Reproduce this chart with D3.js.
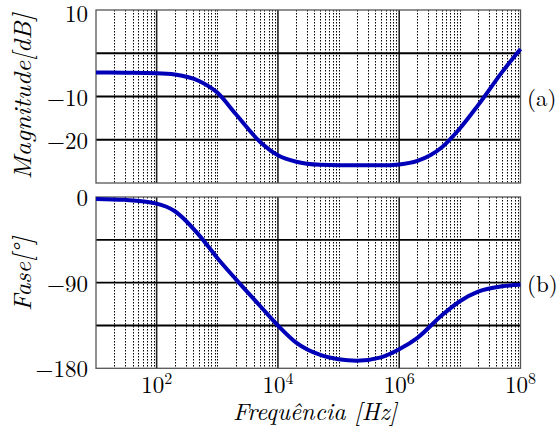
<!DOCTYPE html>
<html>
<head>
<meta charset="utf-8">
<script src="https://cdn.jsdelivr.net/npm/d3@7"></script>
<style>
  body { margin: 0; background: #fff; }
</style>
</head>
<body>
<svg id="chart" width="558" height="439"></svg>
<script>
// frequencias (Hz)
const freq = [10, 30, 100, 200, 500, 1e3, 2e3, 5e3, 1e4, 2e4, 5e4, 1e5, 2e5, 5e5, 1e6, 2e6, 5e6, 1e7, 2e7, 5e7, 1e8];
// magnitude em dB
const magnitude = [-4.45, -4.5, -4.6, -4.9, -6.4, -9.1, -14.0, -20.4, -23.6, -25.1, -25.8, -25.9, -25.9, -25.9, -25.7, -24.9, -21.8, -17.4, -12.0, -4.3, 1.0];
// fase em graus
const fase = [-2, -3, -7, -15, -40, -64, -86, -114, -135, -153, -166, -170.5, -172, -168.5, -160, -148, -124.5, -109.5, -99.5, -93.8, -92.3];

const xTicks = [1e2, 1e4, 1e6, 1e8];
const magTicks = [10, -10, -20];
const magGrid = [0, -10, -20];
const faseTicks = [0, -90, -180];
const faseGrid = [-45, -90, -135];

const fonte = "Latin Modern Roman";

let svg = d3.select("#chart");

let x = d3.scaleLog()
    .domain([10, 1e8])
    .range([96, 520.5]);

let yMag = d3.scaleLinear().domain([-30, 10]).range([183, 10]);
let yFase = d3.scaleLinear().domain([-180, 0]).range([368.3, 197]);

// linhas verticais do grid (log)
let minorF = [];
for (let k = 1; k < 8; k++) {
    for (let m = 1; m < 10; m++) {
        let f = m * Math.pow(10, k);
        if (f > 10 && f < 1e8) minorF.push(f);
    }
}
let isMajor = f => xTicks.indexOf(f) >= 0;

function drawPanel(y, gridVals, tickVals, data, label, tag, labelY) {
    let g = svg.append("g");
    let top = y.range()[1], bot = y.range()[0];

    g.selectAll(".vminor")
        .data(minorF.filter(f => !isMajor(f)))
        .enter().append("line")
        .attr("x1", d => Math.round(x(d)) + 0.5).attr("x2", d => Math.round(x(d)) + 0.5)
        .attr("y1", top).attr("y2", bot)
        .attr("stroke", "#000")
        .attr("stroke-width", 1)
        .attr("stroke-dasharray", "1.5,1.5");

    g.selectAll(".vmajor")
        .data(minorF.filter(f => isMajor(f)))
        .enter().append("line")
        .attr("x1", d => x(d)).attr("x2", d => x(d))
        .attr("y1", top).attr("y2", bot)
        .attr("stroke", "#222")
        .attr("stroke-width", 1.6);

    g.selectAll(".hgrid")
        .data(gridVals)
        .enter().append("line")
        .attr("x1", x.range()[0]).attr("x2", x.range()[1])
        .attr("y1", d => y(d)).attr("y2", d => y(d))
        .attr("stroke", "#000")
        .attr("stroke-width", 1.9);

    g.append("rect")
        .attr("x", x.range()[0]).attr("y", top)
        .attr("width", x.range()[1] - x.range()[0])
        .attr("height", bot - top)
        .attr("fill", "none")
        .attr("stroke", "#555")
        .attr("stroke-width", 1.3);

    let line = d3.line()
        .x((d, i) => x(freq[i]))
        .y(d => y(d))
        .curve(d3.curveMonotoneX);

    g.append("path")
        .datum(data)
        .attr("d", line)
        .attr("fill", "none")
        .attr("stroke", "#0000b8")
        .attr("stroke-width", 4)
        .attr("stroke-linecap", "butt");

    g.selectAll(".ytick")
        .data(tickVals)
        .enter().append("text")
        .attr("font-family", fonte)
        .attr("x", 88)
        .attr("y", d => Math.max(y(d) + 1.5, 14))
        .attr("dy", "0.33em")
        .attr("text-anchor", "end")
        .style("font-size", "23px")
        .text(d => d < 0 ? "\u2212" + Math.abs(d) : d);

    g.append("text")
        .attr("font-family", fonte)
        .attr("transform", "translate(31," + labelY + ") rotate(-90)")
        .attr("text-anchor", "middle")
        .style("font-size", "25px")
        .style("font-style", "italic")
        .text(label.text)
        .attr("textLength", label.len)
        .attr("lengthAdjust", "spacingAndGlyphs");

    g.append("text")
        .attr("font-family", fonte)
        .attr("x", 527)
        .attr("y", (top + bot) / 2 + 2)
        .attr("dy", "0.33em")
        .style("font-size", "23px")
        .text(tag);
}

drawPanel(yMag, magGrid, magTicks, magnitude, {text: "Magnitude[dB]", len: 166}, "(a)", 96.5);
drawPanel(yFase, faseGrid, faseTicks, fase, {text: "Fase[\u00b0]", len: 74}, "(b)", 274);

// rotulos do eixo x
let xl = svg.selectAll(".xtick")
    .data(xTicks)
    .enter().append("text")
    .attr("font-family", fonte)
    .attr("x", d => x(d))
    .attr("y", 393)
    .attr("text-anchor", "middle")
    .style("font-size", "23px");
xl.append("tspan").text("10");
xl.append("tspan")
    .attr("dy", -9)
    .style("font-size", "16px")
    .text(d => Math.round(Math.log10(d)));

svg.append("text")
    .attr("font-family", fonte)
    .attr("x", 315)
    .attr("y", 420)
    .attr("text-anchor", "middle")
    .style("font-size", "24px")
    .style("font-style", "italic")
    .attr("textLength", 164)
    .attr("lengthAdjust", "spacingAndGlyphs")
    .text("Frequência [Hz]");
</script>
</body>
</html>
